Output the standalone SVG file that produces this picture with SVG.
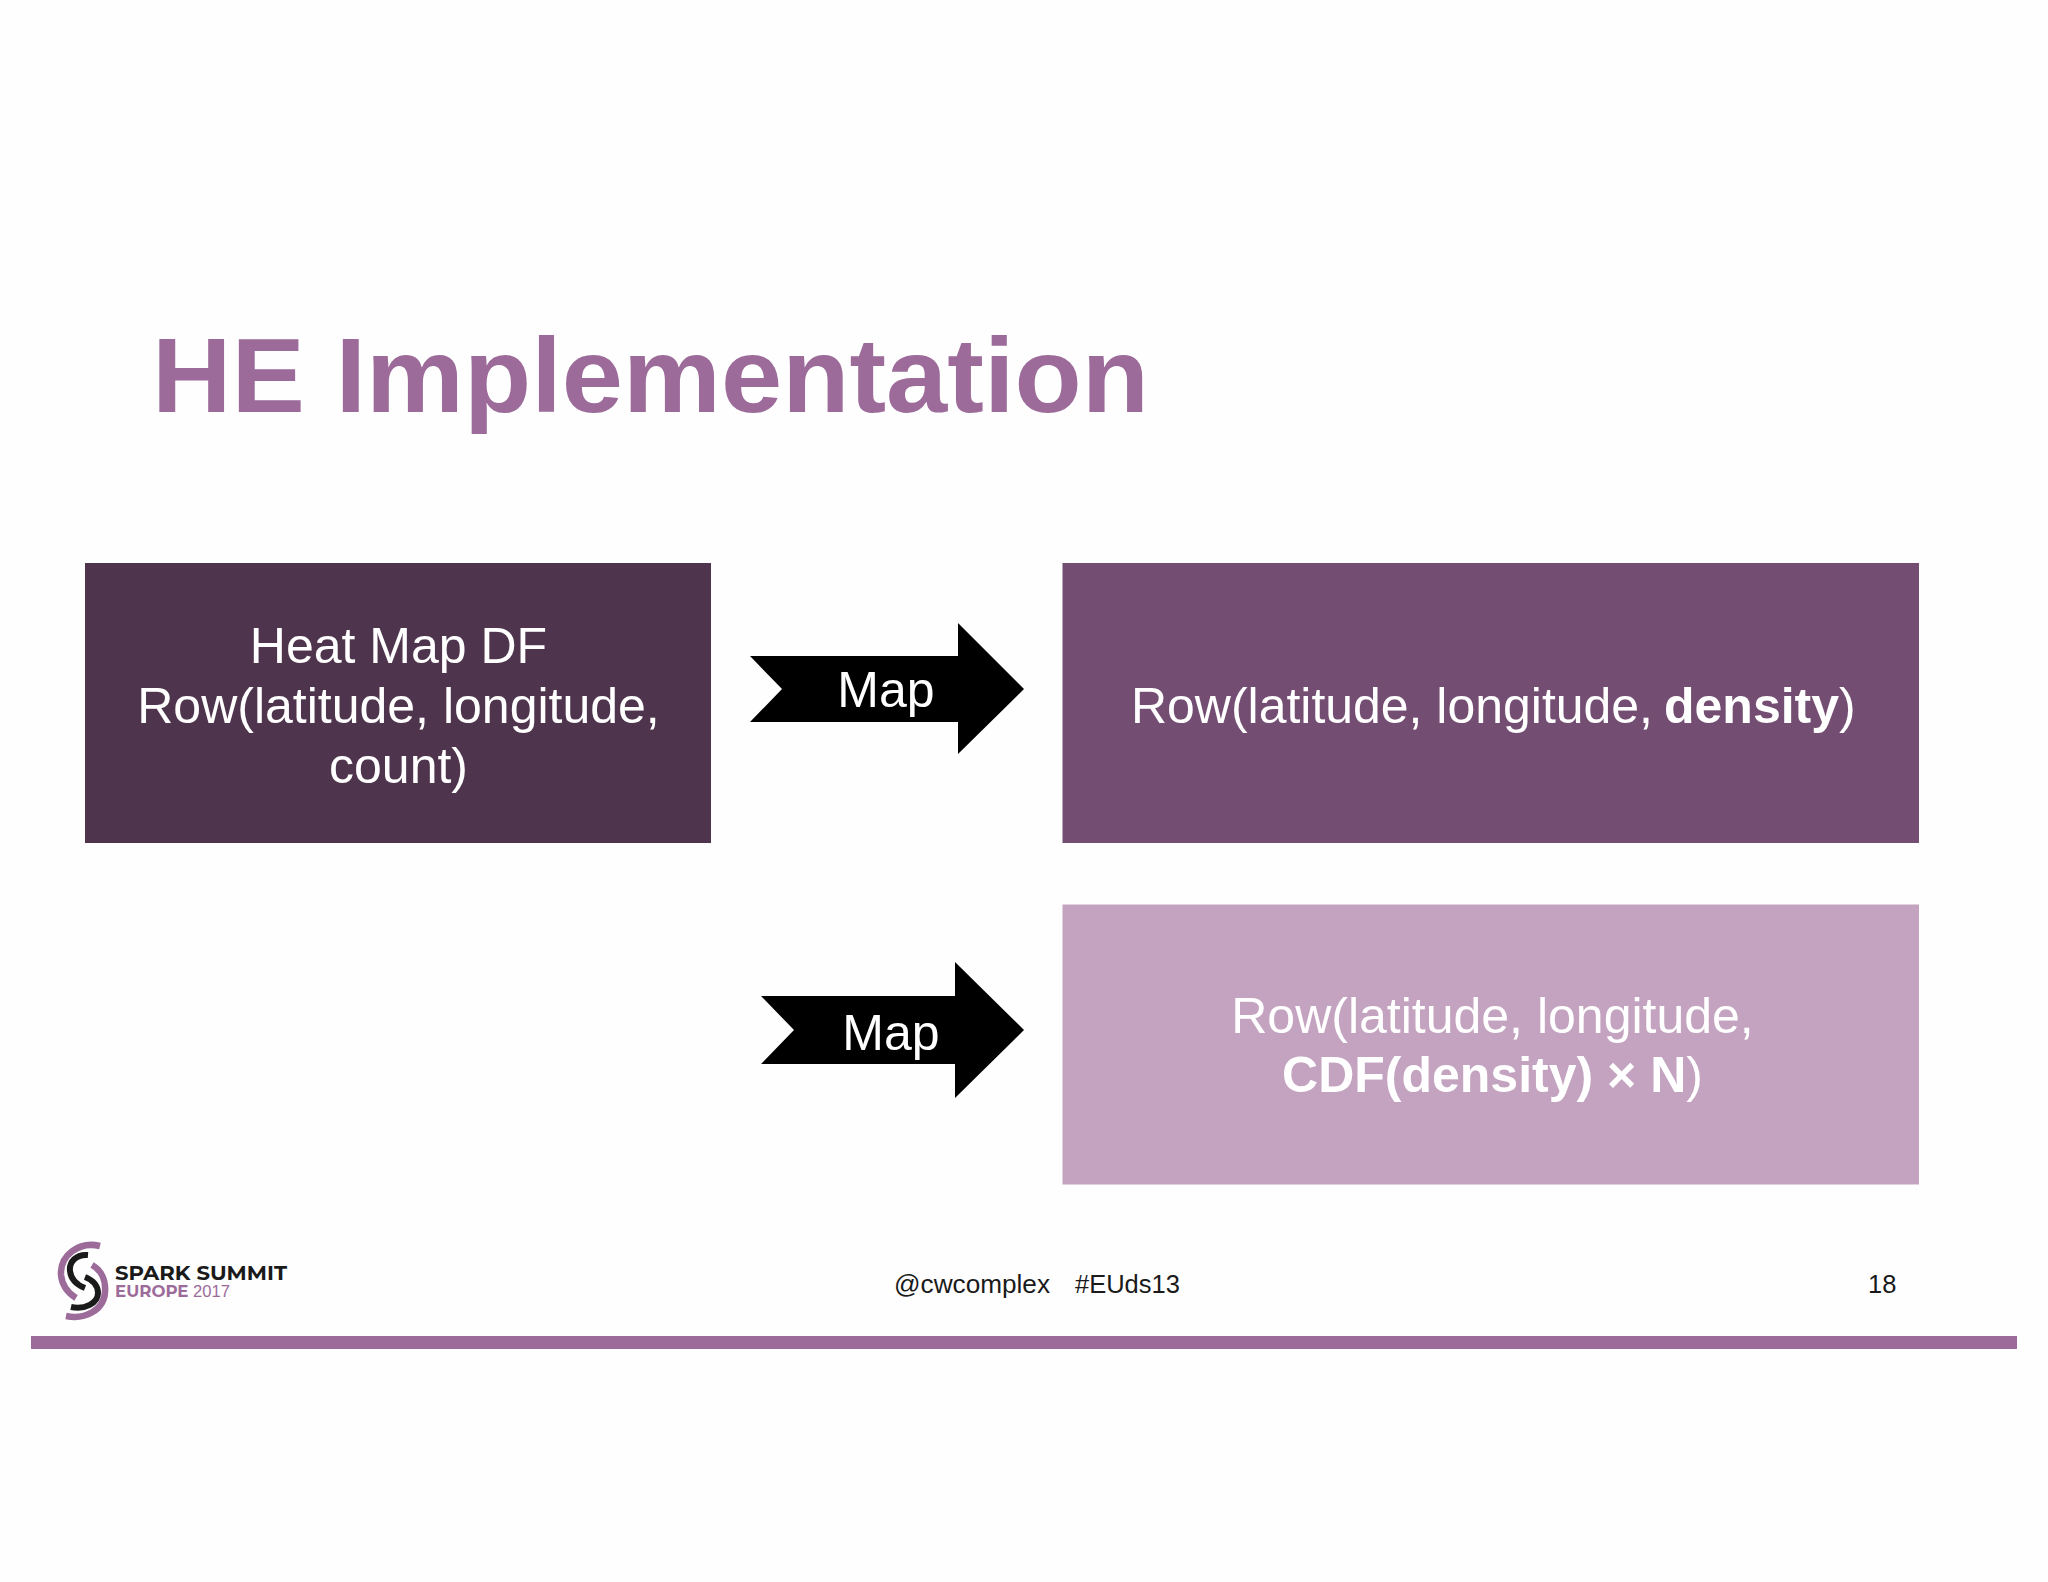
<svg xmlns="http://www.w3.org/2000/svg" width="2048" height="1582" viewBox="0 0 2048 1582">
<style>
text{font-family:"Liberation Sans",Arial,sans-serif}
.w{fill:#fff;font-size:50px;text-anchor:middle}
.b{font-weight:bold}
.s{fill:#1a1a1a;font-size:25.5px}
.a{fill:none;stroke-linecap:butt}
.p{stroke:#9c6b9a;stroke-width:6.5}
.k{stroke:#1a1a1a;stroke-width:6}
.l{font-family:Montserrat,"Open Sans","Liberation Sans",sans-serif;font-weight:bold}
</style>
<rect width="2048" height="1582" fill="#fefefe"/>
<text id="title" x="152" y="412" font-size="106" font-weight="bold" fill="#9c6b9a" textLength="997" lengthAdjust="spacingAndGlyphs">HE Implementation</text>
<g id="node-heatmap">
<rect x="85" y="563" width="626" height="280" fill="#4e344c"/>
<text class="w"><tspan x="398.500" y="663">Heat Map DF</tspan><tspan x="398.500" y="723">Row(latitude, longitude,</tspan><tspan x="398.500" y="783">count)</tspan></text>
</g>
<g id="node-density">
<rect x="1062.500" y="563" width="856.500" height="280" fill="#744e72"/>
<text x="1131" y="723" font-size="50" fill="#fff" textLength="522" lengthAdjust="spacingAndGlyphs">Row(latitude, longitude,</text>
<text x="1664" y="723" font-size="50" fill="#fff"><tspan class="b">density</tspan>)</text>
</g>
<g id="node-cdf">
<rect x="1062.500" y="904.500" width="856.500" height="280" fill="#c3a3bf"/>
<text class="w"><tspan x="1492.500" y="1033">Row(latitude, longitude,</tspan><tspan x="1492.500" y="1092"><tspan class="b">CDF(density) × N</tspan>)</tspan></text>
</g>
<g id="connectors">
<g id="arrow-1">
<polygon points="750,656 958,656 958,623 1024,689 958,754 958,722 750,722 782,689" fill="#000"/>
<text x="886" y="707" font-size="50" fill="#fff" text-anchor="middle">Map</text>
</g>
<g id="arrow-2">
<polygon points="761,996 955,996 955,962 1024,1030 955,1098 955,1064 761,1064 794,1030" fill="#000"/>
<text x="891" y="1050" font-size="50" fill="#fff" text-anchor="middle">Map</text>
</g>
</g>
<g id="footer">
<g id="logo">
<path class="a p" d="M100 1246 C79 1241 60 1255 61 1275 C62 1285 68 1293 76 1298"/>
<path class="a p" d="M92 1265 C101 1270 106 1280 105 1292 C104 1310 85 1320 66 1316"/>
<path class="a k" d="M88 1255 C76 1254 69 1262 70 1271 C71 1280 77 1285 85 1288"/>
<path class="a k" d="M85 1277 C93 1280 98 1286 98 1293 C98 1303 85 1310 71 1307"/>
</g>
<text class="l" x="115" y="1280" font-size="20.5" fill="#1a1a1a" textLength="172" lengthAdjust="spacingAndGlyphs">SPARK SUMMIT</text>
<text x="115" y="1297" font-size="16.5" fill="#9c6b9a" textLength="115" lengthAdjust="spacingAndGlyphs"><tspan class="l">EUROPE</tspan> 2017</text>
<text class="s" x="894" y="1293" textLength="156" lengthAdjust="spacingAndGlyphs">@cwcomplex</text>
<text class="s" x="1075" y="1293">#EUds13</text>
<text class="s" x="1868" y="1293">18</text>
<rect id="rule" x="31" y="1336" width="1986" height="13" fill="#9c6b9a"/>
</g>
</svg>
